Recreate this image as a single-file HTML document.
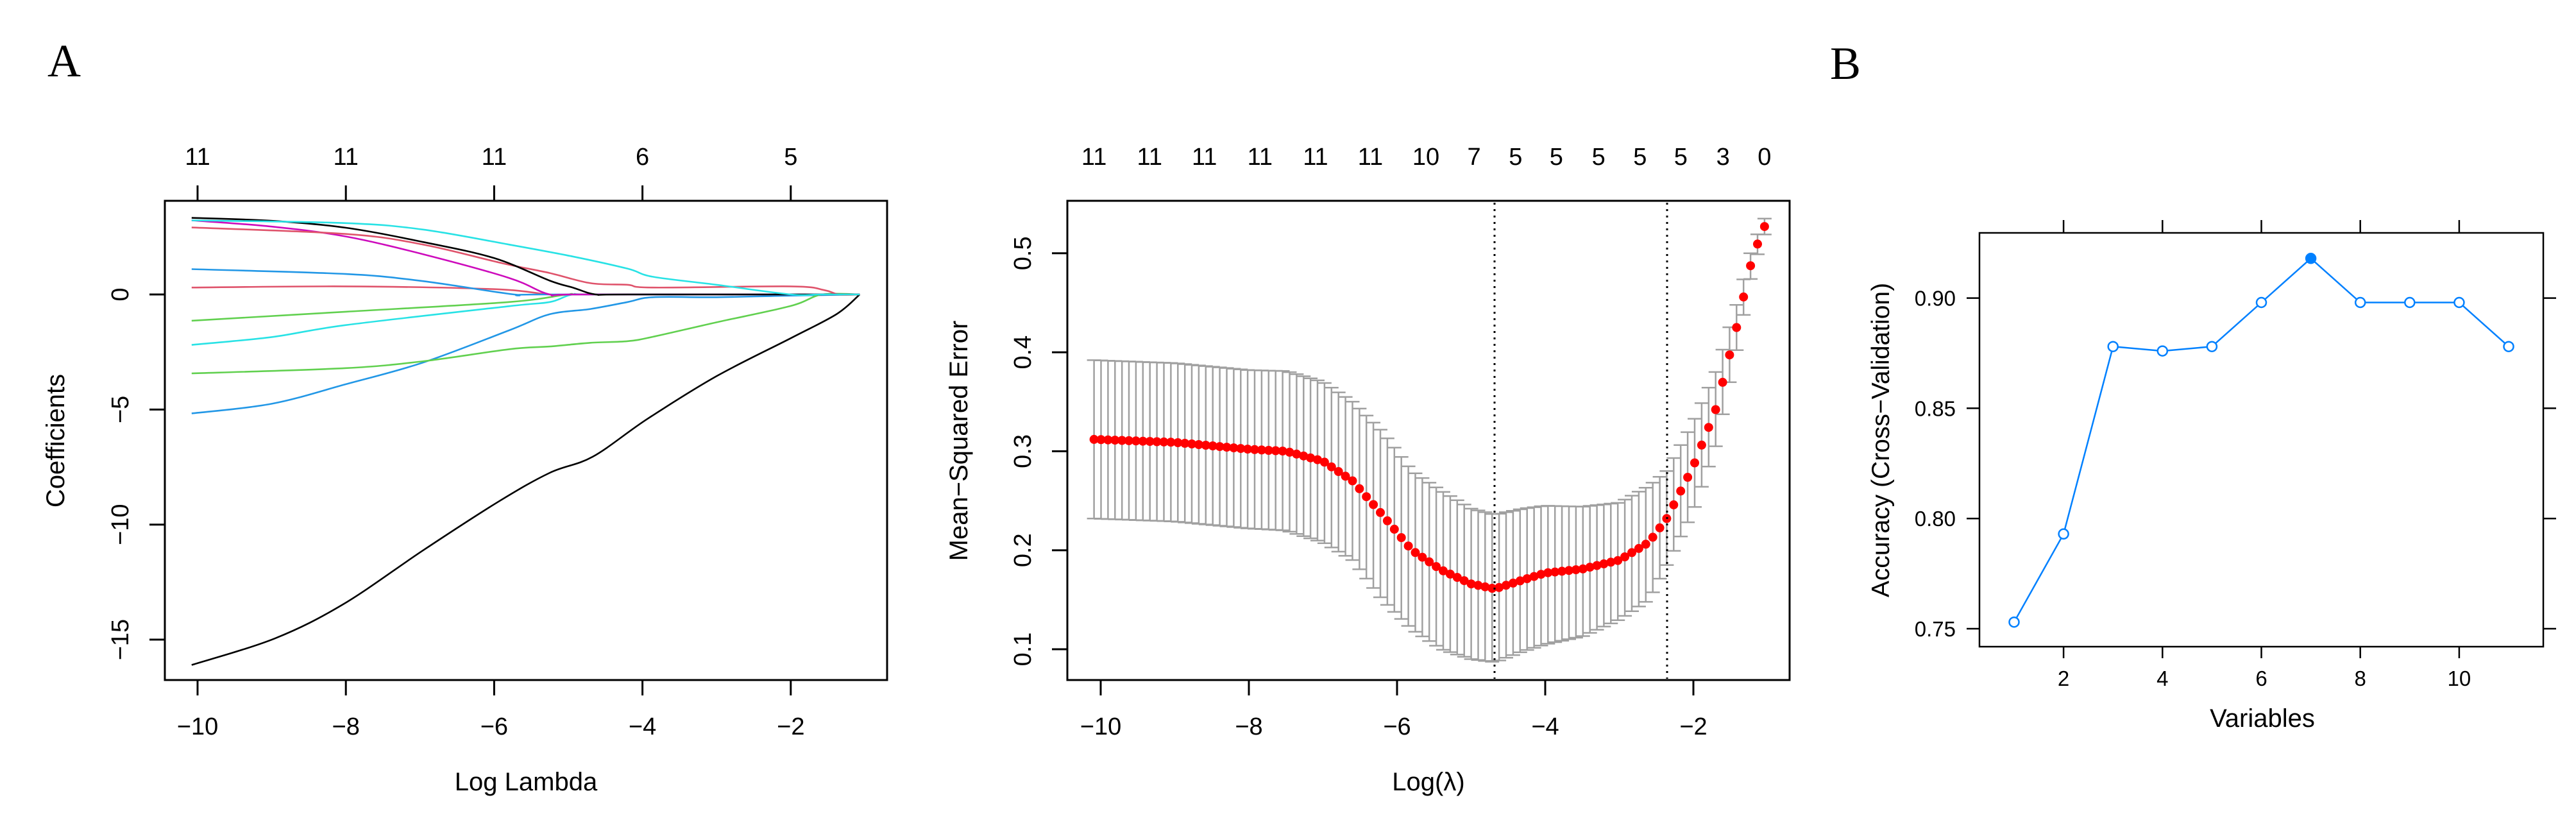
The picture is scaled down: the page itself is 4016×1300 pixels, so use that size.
<!DOCTYPE html>
<html><head><meta charset="utf-8"><style>
html,body{margin:0;padding:0;background:#fff;}
svg{display:block;}
text{font-family:"Liberation Sans",sans-serif;fill:#000;}
</style></head><body>
<svg id="s" width="4016" height="1300" viewBox="0 0 4016 1300" xmlns="http://www.w3.org/2000/svg">
<rect width="4016" height="1300" fill="#fff"/>
<text x="74" y="119" style="font-family:'Liberation Serif',serif;font-size:72px">A</text>
<text x="2853" y="123" style="font-family:'Liberation Serif',serif;font-size:72px">B</text>
<g id="g"></g>
</svg>
<script>
var g=document.getElementById('g');var out='';
function L(x1,y1,x2,y2,st){out+='<line x1="'+x1+'" y1="'+y1+'" x2="'+x2+'" y2="'+y2+'" style="'+st+'"/>';}
function T(x,y,t,sz,anc,rot){out+='<text x="'+x+'" y="'+y+'" font-size="'+sz+'" text-anchor="'+(anc||'middle')+'"'+(rot?' transform="rotate(-90 '+x+' '+y+')"':'')+'>'+t+'</text>';}
function smooth(P){var d='M'+P[0][0].toFixed(1)+','+P[0][1].toFixed(1);
for(var i=0;i<P.length-1;i++){var p0=P[Math.max(i-1,0)],p1=P[i],p2=P[i+1],p3=P[Math.min(i+2,P.length-1)];
var c1x=p1[0]+(p2[0]-p0[0])/6,c1y=p1[1]+(p2[1]-p0[1])/6,c2x=p2[0]-(p3[0]-p1[0])/6,c2y=p2[1]-(p3[1]-p1[1])/6;
d+='C'+c1x.toFixed(1)+','+c1y.toFixed(1)+' '+c2x.toFixed(1)+','+c2y.toFixed(1)+' '+p2[0].toFixed(1)+','+p2[1].toFixed(1);}return d;}
// ---------- Plot 1 ----------
var X1=function(v){return 308+(v+10)*115.6;}, Y1=function(v){return 459-35.87*v;};
out+='<rect x="257" y="313" width="1126" height="747" fill="none" stroke="#000" stroke-width="3"/>';
[-10,-8,-6,-4,-2].forEach(function(v){var x=X1(v);L(x,1060,x,1084,'stroke:#000;stroke-width:3');T(x,1145,'\u2212'+(-v),38);L(x,313,x,289,'stroke:#000;stroke-width:3');});
['11','11','11','6','5'].forEach(function(t,i){T(X1(-10+2*i),257,t,38);});
[0,-5,-10,-15].forEach(function(v){var y=Y1(v);L(257,y,233,y,'stroke:#000;stroke-width:3');T(200,y,v==0?'0':'\u2212'+(-v),38,'middle',1);});
T(820,1232,'Log Lambda',40);T(100,687,'Coefficients',40,'middle',1);
var curves=[
['#000',[[-10.08,-16.1],[-8.96,-14.95],[-8.03,-13.45],[-6.95,-11.1],[-5.94,-9.0],[-5.25,-7.75],[-4.67,-7.05],[-3.93,-5.4],[-3.0,-3.55],[-2.0,-1.9],[-1.38,-0.85],[-1.07,0]]],
['#2297E6',[[-10.08,-5.17],[-9,-4.75],[-8.0,-3.9],[-6.96,-2.96],[-5.8,-1.56],[-5.25,-0.86],[-4.7,-0.63],[-4.2,-0.33],[-3.86,-0.12],[-3.0,-0.12],[-2.0,-0.05],[-1.07,0]]],
['#61D04F',[[-10.08,-3.43],[-8.0,-3.2],[-6.95,-2.9],[-5.8,-2.38],[-5.25,-2.26],[-4.7,-2.1],[-4.2,-2.03],[-3.86,-1.84],[-3.0,-1.21],[-2.0,-0.5],[-1.58,0],[-1.07,0]]],
['#28E2E5',[[-10.08,-2.19],[-9,-1.85],[-8.0,-1.33],[-5.8,-0.51],[-5.25,-0.33],[-4.94,0],[-4.5,0],[-1.07,0]]],
['#61D04F',[[-10.08,-1.14],[-8.0,-0.75],[-5.8,-0.33],[-5.0,0],[-4.6,0],[-1.07,0]]],
['#DF536B',[[-10.08,0.3],[-8.0,0.35],[-6.0,0.23],[-5.25,0],[-4.8,0],[-1.07,0]]],
['#2297E6',[[-10.08,1.1],[-8.0,0.89],[-6.96,0.58],[-5.73,0],[-5.3,0],[-1.07,0]]],
['#CD0BBC',[[-10.08,3.22],[-9,2.95],[-8.0,2.52],[-6.96,1.75],[-5.8,0.72],[-5.25,0],[-4.8,0],[-1.07,0]]],
['#DF536B',[[-10.08,2.91],[-8.0,2.63],[-6.96,2.17],[-5.88,1.35],[-5.25,0.93],[-4.7,0.49],[-4.2,0.42],[-3.86,0.3],[-2.0,0.35],[-1.55,0.19],[-1.35,0],[-1.07,0]]],
['#000',[[-10.08,3.33],[-9,3.2],[-8.0,2.9],[-6.96,2.28],[-6.0,1.58],[-5.25,0.6],[-4.94,0.3],[-4.63,0],[-4.2,0],[-1.07,0]]],
['#28E2E5',[[-10.08,3.22],[-8.0,3.1],[-6.96,2.82],[-5.8,2.17],[-4.94,1.65],[-4.2,1.12],[-3.86,0.77],[-3.0,0.42],[-2.0,0],[-1.6,0],[-1.07,0]]]
];
curves.forEach(function(c){var P=c[1].map(function(p){return [X1(p[0]),Y1(p[1])];});out+='<path d="'+smooth(P)+'" fill="none" stroke="'+c[0]+'" stroke-width="2.6" stroke-linejoin="round"/>';});
// ---------- Plot 2 ----------
var X2=function(v){return 1716+(v+10)*115.5;}, Y2=function(v){return 1012-(v-0.1)*1543;};
out+='<rect x="1664" y="313" width="1126" height="747" fill="none" stroke="#000" stroke-width="3"/>';
[-10,-8,-6,-4,-2].forEach(function(v){var x=X2(v);L(x,1060,x,1084,'stroke:#000;stroke-width:3');T(x,1145,'\u2212'+(-v),38);});
[0.1,0.2,0.3,0.4,0.5].forEach(function(v){var y=Y2(v);L(1664,y,1640,y,'stroke:#000;stroke-width:3');T(1607,y,v.toFixed(1),38,'middle',1);});
var tl=['11','11','11','11','11','11','10','7','5','5','5','5','5','3','0'],tx=[-10.09,-9.34,-8.6,-7.85,-7.1,-6.36,-5.61,-4.96,-4.4,-3.85,-3.28,-2.72,-2.17,-1.6,-1.04];
tl.forEach(function(t,i){T(X2(tx[i]),257,t,38);});
T(2227,1232,'Log(\u03bb)',40);T(1508,687,'Mean\u2212Squared Error',40,'middle',1);
var K=[[-10.09,.312,.232,.392],[-9,.309,.229,.389],[-8,.302,.222,.382],[-7.5,.300,.220,.381],[-7,.290,.208,.370],[-6.6,.27,.19,.35],[-6.2,.236,.15,.32],[-5.8,.20,.12,.28],[-5.4,.18,.10,.26],[-5.0,.166,.09,.242],[-4.68,.161,.087,.236],[-4.3,.17,.098,.242],[-4.0,.177,.105,.245],[-3.5,.181,.113,.244],[-3.0,.19,.13,.248],[-2.6,.208,.15,.265],[-2.36,.232,.185,.28],[-2.0,.285,.24,.33],[-1.7,.342,.305,.38],[-1.4,.43,.408,.452],[-1.2,.497,.485,.508],[-1.04,.527,.519,.535]];
function interp(x,j){for(var i=0;i<K.length-1;i++){if(x<=K[i+1][0]){var t=(x-K[i][0])/(K[i+1][0]-K[i][0]);return K[i][j]+t*(K[i+1][j]-K[i][j]);}}return K[K.length-1][j];}
var n=97,bars='',dots='';
for(var i=0;i<n;i++){var x=-10.09+i*(9.05/(n-1));var px=X2(x);var m=interp(x,1),lo=interp(x,2),hi=interp(x,3);
var ylo=Y2(lo).toFixed(1),yhi=Y2(hi).toFixed(1);
bars+='M'+px.toFixed(1)+','+ylo+'V'+yhi+'M'+(px-11).toFixed(1)+','+ylo+'h22M'+(px-11).toFixed(1)+','+yhi+'h22';
dots+='<circle cx="'+px.toFixed(1)+'" cy="'+Y2(m).toFixed(1)+'" r="7" fill="#f00"/>';}
out+='<path d="'+bars+'" stroke="#a0a0a0" stroke-width="2.5" fill="none"/>'+dots;
L(2330,316,2330,1058,'stroke:#000;stroke-width:3;stroke-dasharray:3,7');
L(2599,316,2599,1058,'stroke:#000;stroke-width:3;stroke-dasharray:3,7');
// ---------- Plot 3 ----------
var X3=function(v){return 3140+(v-1)*77.1;}, Y3=function(v){return 980-(v-0.75)*3436;};
out+='<rect x="3086" y="363" width="879" height="645" fill="none" stroke="#000" stroke-width="2.5"/>';
[2,4,6,8,10].forEach(function(v){var x=X3(v);L(x,1008,x,1026,'stroke:#000;stroke-width:2.5');L(x,363,x,343,'stroke:#000;stroke-width:2.5');T(x,1069,''+v,33);});
[0.75,0.8,0.85,0.9].forEach(function(v){var y=Y3(v);L(3086,y,3066,y,'stroke:#000;stroke-width:2.5');L(3965,y,3985,y,'stroke:#000;stroke-width:2.5');T(3049,y+12,v.toFixed(2),33,'end');});
T(3527,1133,'Variables',40);T(2945,686,'Accuracy (Cross\u2212Validation)',39,'middle',1);
var A=[.753,.793,.878,.876,.878,.898,.918,.898,.898,.898,.878],d='',c='';
A.forEach(function(v,i){var x=X3(i+1),y=Y3(v);d+=(i?'L':'M')+x.toFixed(1)+','+y.toFixed(1);
c+='<circle cx="'+x.toFixed(1)+'" cy="'+y.toFixed(1)+'" r="7.5" '+(i==6?'fill="#0080ff" stroke="#0080ff"':'fill="#fff" stroke="#0080ff"')+' stroke-width="2.5"/>';});
out+='<path d="'+d+'" fill="none" stroke="#0080ff" stroke-width="2.5"/>'+c;
g.innerHTML=out;
</script>
</body></html>
